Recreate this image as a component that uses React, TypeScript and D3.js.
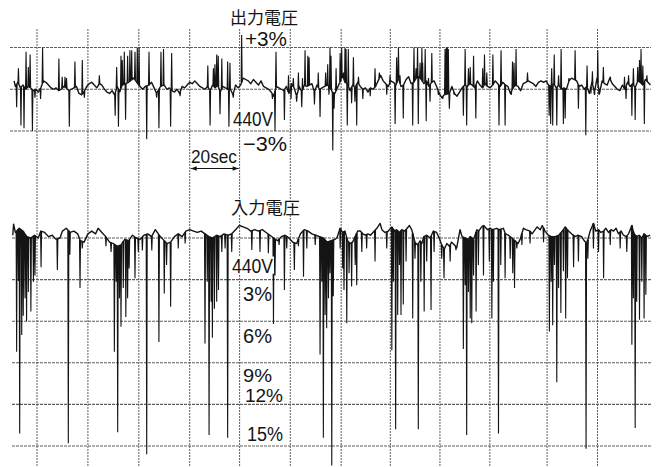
import React from "react";
import * as d3 from "d3";

// Time (s) of the 20-second chart divisions, as read from the paper
const gridTimes = [0, 20, 40, 60, 79.6, 99.5, 119.5, 138.8, 158.3, 177.9, 200.4, 220.2];
// Output voltage reference lines (% of 440V)
const outLevels = [3, 0, -3];
// Input voltage reference lines (% of 440V)
const inLevels = [0, -3, -6, -9, -12, -15];

const outTitle = "出力電圧";
const inTitle = "入力電圧";
const outLabels = ["+3%", "440V", "−3%"];
const inLabels = ["440V", "3%", "6%", "9%", "12%", "15%"];
const spanLabel = "20sec";

// Output voltage: slow wobble of the pen, [seconds, %]
const outTrace: [number, number][] = [
  [-9, 0.6], [-8.5, 0.2], [-7.5, 0.5], [-6.5, 0.1], [-5.5, 0.3], [-4.5, 0.0], [-3.5, 0.2], [-2.5, 0.1],
  [-1.5, -0.1], [-0.5, 0.0], [0.5, -0.2], [1.5, 0.1], [2.5, 0.6], [3.5, 0.5], [4.5, 0.3], [5.5, 0.1],
  [6.5, 0.0], [7.5, 0.1], [8.5, -0.1], [9.5, 0.0], [10.5, 0.2], [11.5, 0.1], [12.5, -0.1], [13.5, 0.0],
  [14.5, 0.1], [15.5, 0.2], [16.5, -0.3], [17.5, -0.4], [18.5, -0.2], [19.5, 0.2], [20.5, 0.4], [21.5, 0.5],
  [22.5, 0.3], [23.5, 0.1], [24.5, 0.4], [25.5, 0.3], [26.5, 0.0], [27.5, -0.2], [28.5, -0.3], [29.5, -0.1],
  [30.5, -0.4], [31.5, 0.2], [32.5, -0.2], [33.5, 0.3], [36, 0.5], [38, 0.8], [40, 0.3], [41.5, 0.0],
  [42.5, 0.2], [44, 0.3], [45, 0.5], [46, 0.1], [47, -0.3], [48.5, 0.2], [50, 0.3], [51, 0.0],
  [52, 0.1], [53, -0.1], [54, -0.2], [55, 0.0], [56, -0.3], [57, 0.2], [58, 0.1], [59, 0.3],
  [60, 0.5], [61, 0.4], [62, 0.6], [63, 0.4], [64, 0.2], [65, 0.1], [66, 0.0], [67, 0.2],
  [68, -0.1], [69, 0.3], [70, 0.1], [71, 0.3], [72, -0.2], [73, 0.2], [74, 0.1], [75, 0.0],
  [76, 0.0], [77, -0.4], [78, 0.3], [79, 0.1], [80, 0.3], [81, 0.8], [82, 0.7], [83, 0.6],
  [84, 0.4], [85, 0.7], [86, 0.5], [87, 0.3], [88, 0.6], [89, 0.2], [90, 0.1], [91, 0.0],
  [92, -0.2], [93, -0.5], [94, 0.2], [95, 0.1], [96, 0.0], [97, -0.1], [98, 0.2], [99, -0.3],
  [100, 0.4], [101, 0.1], [102, -0.5], [103, 0.2], [104, -0.2], [105, 0.3], [106, 0.2], [107, 0.3],
  [108, 0.4], [109, -0.2], [110, 0.3], [111, 0.0], [112, 0.1], [113, 0.2], [114, 0.3], [115, 0.2],
  [116, -0.2], [117, -0.3], [118, 0.1], [119, 0.5], [120, 1.0], [121, 0.5], [122, 0.4], [123, -0.1],
  [124, 0.3], [125, 0.1], [126, 0.5], [127, 0.2], [128, 0.0], [129, 0.1], [130, -0.2], [131, 0.1],
  [132, 0.0], [133, 0.2], [134, 0.6], [135, 1.0], [136, 0.6], [137, 0.4], [138, 0.2], [139, 0.6],
  [140, 0.5], [141, 0.3], [142, 0.8], [143, 0.2], [144, 0.3], [145, 0.7], [146, 0.9], [147, 0.4],
  [148, 0.5], [149, 0.8], [150, 0.9], [151, 0.7], [152, 0.4], [153, 0.6], [154, 0.2], [155, 0.5],
  [156, 0.6], [157, 0.2], [158, -0.3], [159, -0.6], [160, -0.4], [162, -0.3], [163, 0.2], [164, -0.3],
  [165, -0.5], [166, -0.2], [167, 0.1], [168, 0.3], [169, 0.2], [170, 0.4], [171, 0.3], [172, 0.1],
  [173, 0.6], [174, 0.3], [175, 0.1], [176, 0.4], [177, 0.2], [178, 0.1], [179, 0.3], [180, 0.6],
  [181, 0.4], [182, 0.2], [183, 0.5], [184, 0.3], [185, 0.2], [186, -0.3], [187, 0.1], [188, 0.3],
  [189, 0.2], [190, -0.1], [191, 0.4], [192, 0.5], [193, 0.6], [194, 0.5], [195, 0.4], [196, 0.2],
  [197, 0.5], [198, 0.6], [199, 0.5], [200, 0.6], [201, 0.3], [202, 0.2], [203, 0.4], [204, 0.1],
  [205, 0.3], [206, 0.0], [207, 0.1], [208, 0.0], [209, 0.6], [210, 0.8], [211, 0.7], [212, 0.6],
  [213, 0.2], [214, 0.3], [215, 0.0], [216, 0.2], [217, -0.3], [218, 0.5], [219, -0.2], [220, 0.8],
  [221, -0.3], [222, 0.6], [223, 0.4], [224, 0.3], [225, 0.8], [226, 0.4], [227, 0.2], [228, 0.0],
  [229, -0.1], [230, 0.3], [231, 0.0], [232, 0.5], [233, 0.2], [234, 0.4], [235, 0.1], [236, 0.6],
  [237, 0.5], [238, 0.3], [239, 0.7], [240, 0.5], [241, 0.3],
];

// Output voltage: fast pen excursions, [seconds, peak %]
const outSpikes: [number, number][] = [
  [-8.0, -1.3], [-7.3, 1.5], [-6.3, -2.6], [-5.1, -2.8], [-4.3, 2.7], [-3.4, 1.6], [-2.7, 2.5], [-1.8, -3.0],
  [-0.8, -0.6], [1.4, -0.7], [2.2, 3.0], [8.6, 2.2], [9.9, 0.9], [11.0, 0.9], [11.6, 0.8], [12.7, -2.7],
  [14.9, 2.0], [17.8, 2.1], [18.6, -0.6], [24.5, 1.0], [30.7, -1.9], [31.3, 1.6], [32.0, -2.7], [33.0, 2.4],
  [33.5, 2.1], [34.3, 2.7], [34.8, -2.2], [35.6, 2.4], [36.5, 2.8], [37.2, 2.8], [37.6, 0.8], [38.5, 2.7],
  [39.4, 3.0], [40.1, 3.0], [43.1, -3.6], [44.0, 2.7], [47.0, -0.6], [47.9, -2.8], [48.7, 2.7], [49.7, 2.9],
  [52.5, -2.7], [52.9, 2.6], [56.2, -0.5], [67.1, 1.7], [68.0, -2.6], [69.3, 1.5], [69.9, 1.8], [70.6, 2.5],
  [71.2, 2.4], [71.9, -1.8], [72.6, 2.2], [74.9, 2.0], [75.4, -2.7], [75.8, 1.9], [77.1, -0.6], [80.4, 3.9],
  [92.5, -0.7], [93.5, -3.0], [93.9, 2.7], [97.2, -2.2], [98.8, 1.0], [99.8, -0.7], [100.7, 0.8], [102.0, -0.9],
  [102.7, 1.2], [104.0, -1.3], [104.3, 0.8], [105.3, 2.8], [106.4, 2.4], [106.9, 2.3], [109.0, -1.1], [110.5, 1.2],
  [111.2, -2.0], [113.4, 1.2], [114.2, 1.8], [114.7, -0.4],
  [115.1, 3.0], [115.5, 2.4], [116.2, -4.4], [116.7, -1.4], [117.5, 1.5], [119.1, 2.6], [119.7, 3.0], [120.4, 1.2],
  [121.0, 3.0], [121.4, 2.9], [121.9, -2.6], [122.3, 2.9], [123.6, -1.0], [124.3, 2.3], [124.9, -0.9], [125.6, -2.6],
  [126.3, 0.9], [128.0, -0.7], [130.9, -0.5], [132.8, 1.5], [134.5, 1.2], [137.4, -0.4], [138.7, 1.0], [140.7, -2.5],
  [141.3, 2.3], [142.0, 3.0], [142.6, 1.0], [143.9, -2.1], [147.6, -2.6], [148.1, 3.0], [148.9, 1.5], [149.5, 3.0],
  [149.8, -2.5], [150.5, 1.9], [151.2, 3.0], [151.5, 1.9], [152.5, 2.9], [152.9, -2.3], [153.8, 0.8], [154.4, -0.9],
  [155.1, 2.6], [157.7, -0.4], [159.4, -0.7], [160.3, 2.9], [160.8, 3.0], [161.2, 3.0], [161.6, 2.9], [162.0, -1.4],
  [163.9, -0.4], [167.5, -1.9], [168.2, 2.9], [168.8, -2.6], [169.5, 1.5], [170.2, 1.6], [171.5, 2.4], [172.4, -2.1],
  [175.1, 1.5], [175.8, 2.5], [176.7, 1.2], [179.1, 2.5],
  [181.5, -2.6], [182.3, 2.8], [183.9, -2.6], [186.3, -0.4], [186.8, 2.0], [187.4, 1.9], [188.2, 2.9], [192.7, 1.2],
  [201.2, -1.9], [201.8, -2.5], [202.2, 1.5], [202.6, -2.6], [203.2, 2.5], [204.2, -2.6], [204.9, 1.0], [205.9, 2.9],
  [206.8, -2.5], [207.5, -2.1], [209.0, 0.8], [211.4, 2.8], [212.7, -1.4], [215.6, -3.3], [216.1, 1.7], [217.6, -0.3],
  [218.2, 1.3], [219.0, -0.4], [220.3, 2.8], [220.8, -0.4], [222.5, 1.6], [225.2, 0.9], [230.8, 0.9], [231.4, -0.7],
  [232.4, 1.0], [233.7, -1.9], [234.3, 1.5], [235.0, -2.2], [236.0, 1.6], [236.7, 2.1], [237.3, 2.9], [238.0, 1.7],
  [238.6, -2.5], [239.6, 1.0],
];

// Input voltage: slow wobble, [seconds, %]
const inTrace: [number, number][] = [
  [-9.5, 0.2], [-9.2, 1.0], [-8.5, 0.4], [-7, 0.7], [-5.5, 0.5], [-4, 0.1], [-2.5, 0.0], [-1, 0.2],
  [0.5, 0.0], [1.5, 0.5], [3, 0.4], [4.5, 0.1], [6, 0.2], [7.5, -0.1], [9, 0.0], [10, 0.5],
  [11.5, 0.7], [13, 0.4], [14.5, 0.5], [16, 0.3], [17, -0.2], [18.5, -0.3], [20, 0.3], [21.5, 0.5],
  [23, 0.3], [24, 0.7], [25.5, 0.4], [27, 0.1], [28.5, -0.3], [30, -0.4], [31.5, -0.6], [33, -0.5],
  [34.5, -0.1], [36, -0.2], [37.5, 0.2], [39, 0.0], [40.5, -0.1], [42, 0.2], [43.5, 0.3], [45, 0.1],
  [46.5, 0.6], [48, 0.2], [49.5, -0.1], [51, -0.4], [52.5, -0.3], [54, 0.1], [55.5, 0.3], [57, 0.1],
  [58.5, 0.5], [60, 0.6], [61.5, 0.5], [63, 0.4], [64.5, 0.5], [66, 0.3], [67.5, 0.1], [69, 0.0],
  [70.5, 0.2], [72, 0.1], [73.5, 0.3], [75, 0.2], [76.5, 0.3], [78, 0.6], [79.5, 0.9], [81, 0.8],
  [82.5, 0.7], [84, 0.5], [85.5, 0.6], [87, 0.5], [88.5, 0.6], [90, 0.4], [91.5, 0.2], [93, 0.0],
  [94.5, -0.2], [96, 0.1], [97.5, 0.2], [99, 0.0], [100.5, -0.3], [102, -0.4], [103.5, 0.3], [105, 0.6],
  [106.5, 0.5], [108, 0.3], [109.5, 0.2], [111, 0.1], [112.5, 0.0], [114, -0.3], [115.5, -0.2], [117, -0.1],
  [117.8, 0.0], [119.1, 0.7], [120, 0.4], [121, 0.5], [122, -0.2], [123, -0.4], [124, -0.3], [125, 0.1],
  [126, 0.5], [127, 0.5], [128, 0.3], [129, 0.2], [130, 0.3], [131, 0.2], [132, 0.4], [133.5, 0.7],
  [134.8, 1.05], [135.5, 0.6], [136.7, 0.4], [138, 0.5], [139.4, 0.8], [140.5, 0.5], [141.3, 0.6], [142.3, 0.4],
  [143.3, 0.6], [144.5, 0.5], [146.3, 0.9], [147.2, 0.6], [148.5, -0.3], [149.5, -0.5], [150.5, -0.2], [151.2, -0.4],
  [152, 0.1], [153.1, 0.2], [154.5, 0.0], [155.7, 0.5], [157, 0.4], [158, 0.0], [159, -0.5], [160, -0.8],
  [161, -0.4], [162, -0.6], [162.9, -0.3], [164, -0.5], [164.9, -0.7], [166.2, 0.6], [167, 0.1], [168.2, 0.0],
  [169.5, -0.1], [170.2, 0.1], [171.5, -0.1], [172.8, 0.6], [173.5, 0.5], [174.7, 0.8], [175.5, 0.9], [176.0, 0.8],
  [177, 0.6], [178.0, 0.7], [179, 0.6], [180.6, 0.7], [181.5, 0.6], [183.2, 0.7], [184, 0.3], [185.2, 0.2],
  [186.5, 0.0], [187.8, -0.2], [189, -0.4], [189.8, -0.1], [191.1, 0.7], [192, 0.6], [193.7, 0.5], [194.5, 0.3],
  [195.7, 0.6], [196.5, 0.8], [197.7, 0.6], [198.5, 0.9], [199.6, 0.5], [200.9, 0.2], [202, 0.1], [203.6, 0.1],
  [205, 0.2], [206.8, 0.6], [207.5, 0.8], [208.8, 0.5], [210, 0.3], [211.4, 0.1], [212.5, 0.2], [214.0, 0.1],
  [215, -0.2], [216.0, -0.4], [217.3, 0.5], [218.6, 1.05], [219.5, 0.5], [220.6, 0.6], [221.5, 0.4], [222.6, 0.5],
  [223.5, 0.7], [224.5, 0.4], [225.5, 0.6], [226.5, 0.5], [227.5, 0.7], [228.4, 0.3], [229.5, 0.5], [230.4, 0.2],
  [231.5, 0.1], [232.4, 0.3], [233.7, 0.9], [234.5, 0.3], [235.7, 0.1], [236.5, 0.2], [237.6, 0.0], [238.5, 0.3],
  [239.6, 0.1], [240.9, 0.2],
];

// Input voltage: dips, [seconds, %]
const inDips: [number, number][] = [
  [-8.0, -8.2], [-7.3, -3.1], [-6.8, -14.1], [-6.0, -7.0], [-5.4, -5.6], [-4.7, -4.35], [-4.1, -6.0], [-3.4, -3.9],
  [-2.4, -5.3], [-1.4, -3.15], [-0.8, -2.7], [1.6, -2.1], [8.0, -2.3], [12.3, -14.8], [12.9, -1.2], [16.9, -3.6],
  [17.8, -0.75], [27.1, -0.6], [29.1, -1.0], [30.4, -8.2], [31.1, -3.15], [31.7, -14.0], [32.4, -4.35], [33.0, -6.4],
  [33.9, -3.6], [34.9, -5.7], [35.6, -4.35], [36.2, -2.2], [38.5, -2.9], [39.8, -1.0], [41.4, -0.9], [43.1, -15.6],
  [45.1, -0.9], [47.9, -7.5], [50.0, -4.0], [50.9, -1.95], [52.5, -4.95], [55.5, -0.75], [58.2, -0.4], [66.0, -7.6],
  [66.9, -3.15], [67.6, -14.2], [68.4, -4.6], [68.9, -7.2], [69.7, -5.1], [70.6, -4.6], [71.3, -3.75], [72.6, -1.0],
  [73.9, -0.75], [74.9, -14.4], [76.5, -1.0], [84.4, -0.87], [87.6, -1.0], [90.9, -1.1], [92.9, -6.2], [93.5, -2.7],
  [95.1, -0.5], [97.2, -3.75], [98.1, -0.75], [101.1, -2.3], [102.7, -0.6], [104.7, -2.8], [106.0, -0.75], [109.3, -0.5],
  [111.2, -8.4], [111.9, -3.15], [112.5, -14.4], [113.2, -5.55], [113.8, -6.5], [114.5, -4.35], [115.1, -2.55], [115.8, -16.4],
  [116.4, -4.2], [119.1, -0.75], [120.1, -2.2], [120.6, -3.75], [121.7, -6.15], [122.6, -2.55], [123.6, -3.5], [125.0, -1.95],
  [125.6, -3.4], [127.6, -1.0], [129.5, -0.75], [132.8, -1.7], [137.4, -0.75], [139.4, -8.1], [140.0, -3.15], [140.9, -13.8],
  [141.7, -5.55], [142.4, -1.95], [143.0, -5.55], [143.9, -4.8], [145.0, -1.7], [147.6, -5.8], [148.5, -1.5], [149.8, -13.8],
  [150.8, -3.15], [152.1, -5.3], [153.1, -1.7], [154.8, -5.2], [156.0, -1.0], [159.0, -1.5], [159.9, -2.9], [162.3, -1.7],
  [164.6, -0.87], [167.5, -8.0], [168.2, -3.4], [168.8, -14.2], [169.5, -3.9], [170.2, -5.8], [170.8, -6.15], [171.5, -2.7],
  [172.5, -5.3], [173.4, -1.95], [175.4, -2.7], [177.7, -1.7], [178.7, -5.8], [179.3, -3.15], [181.3, -14.1], [182.2, -1.95],
  [183.9, -2.9], [185.9, -1.5], [186.9, -2.55], [187.6, -3.6], [188.5, -0.75], [190.5, -0.5], [193.7, -0.4], [199.0, -0.3],
  [201.3, -6.75], [202.0, -3.15], [202.6, -6.3], [203.3, -1.95], [204.2, -10.4], [204.9, -3.6], [205.8, -5.4], [206.8, -2.4],
  [207.7, -5.8], [208.4, -2.9], [210.8, -2.1], [212.7, -1.7], [215.7, -15.2], [216.4, -1.5], [218.6, -0.75], [220.6, -1.0],
  [222.6, -2.9], [225.2, -0.5], [229.1, -0.75], [231.7, -1.0], [233.7, -7.7], [234.3, -4.35], [235.0, -13.7], [235.6, -4.6],
  [236.7, -5.9], [237.6, -3.15], [238.5, -5.8], [239.2, -4.1],
];

const CJK_FONT = "'Noto Sans CJK JP', sans-serif";
const LATIN_FONT = "'Liberation Sans', Arial, sans-serif";
const INK = "#141414";
const GRID = "#5e5e5e";

type Pt = [number, number];
const bisectTime = d3.bisector((d: Pt) => d[0]).left;

// level of the slow trace at time t (where a fast excursion leaves the trace)
function traceLevel(trace: Pt[], t: number): number {
  const i = bisectTime(trace, t);
  if (i <= 0) return trace[0][1];
  if (i >= trace.length) return trace[trace.length - 1][1];
  const a = trace[i - 1];
  const b = trace[i];
  return d3.interpolateNumber(a[1], b[1])((t - a[0]) / (b[0] - a[0]));
}

export default function App() {
  const W = 659;
  const H = 467;
  const left = 10;
  const right = 651;

  const x = d3.scaleLinear().domain([0, 220]).range([37, 597]);
  const yOut = d3.scaleLinear().domain([-3, 3]).range([131, 47.5]);
  const yIn = d3.scaleLinear().domain([-15, 0]).range([446, 238]);

  const lineOut = d3.line<Pt>().x((d) => x(d[0])).y((d) => yOut(d[1]));
  const lineIn = d3.line<Pt>().x((d) => x(d[0])).y((d) => yIn(d[1]));

  const excursions = (trace: Pt[], data: Pt[], gen: d3.Line<Pt>) =>
    data
      .map(([t, v]) => {
        const base = traceLevel(trace, t);
        return gen([[t - 0.2, base], [t, v], [t + 0.2, base]]) as string;
      })
      .join("");

  const x0 = x(gridTimes[3]);
  const x1 = x(gridTimes[4]);
  const ay = 168.5;

  const label = (
    text: string,
    lx: number,
    base: number,
    len: number,
    size: number,
    font: string,
    bg: boolean,
    key: string
  ) => (
    <g key={key}>
      {bg && (
        <rect x={lx - 1} y={base - size * 0.8} width={len + 2} height={size * 0.86} fill="#fff" />
      )}
      <text
        x={lx}
        y={base}
        fontSize={size}
        fontFamily={font}
        fill={INK}
        textLength={len}
        lengthAdjust="spacingAndGlyphs"
      >
        {text}
      </text>
    </g>
  );

  const outPos = [
    { lx: 245, base: 46, len: 42, size: 19.5 },
    { lx: 233, base: 125.5, len: 40, size: 20.5 },
    { lx: 243, base: 150.5, len: 44, size: 20.5 },
  ];
  const inPos = [
    { lx: 232, base: 272.5, len: 41, size: 20 },
    { lx: 243, base: 300.5, len: 29, size: 20 },
    { lx: 243, base: 342.5, len: 29, size: 20 },
    { lx: 243, base: 381.5, len: 29, size: 18.5 },
    { lx: 245, base: 402, len: 38, size: 18.5 },
    { lx: 247, base: 440.5, len: 36, size: 20 },
  ];

  return (
    <svg
      width={W}
      height={H}
      viewBox={`0 0 ${W} ${H}`}
      style={{ position: "absolute", left: 0, top: 0, background: "#fff" }}
    >
      <rect x={0} y={0} width={W} height={H} fill="#fff" />
      {/* vertical time grid */}
      {gridTimes.map((t, i) => (
        <line
          key={`v${i}`}
          x1={x(t)}
          x2={x(t)}
          y1={29}
          y2={H}
          stroke={GRID}
          strokeWidth={1}
          strokeDasharray="2 1"
        />
      ))}
      {/* output reference lines */}
      {outLevels.map((v, i) => (
        <line
          key={`ho${i}`}
          x1={left}
          x2={right}
          y1={yOut(v)}
          y2={yOut(v)}
          stroke={GRID}
          strokeWidth={1.1}
          strokeDasharray="3 1"
        />
      ))}
      {/* input reference lines */}
      {inLevels.map((v, i) => (
        <line
          key={`hi${i}`}
          x1={left + 2}
          x2={right}
          y1={yIn(v)}
          y2={yIn(v)}
          stroke={GRID}
          strokeWidth={1.1}
          strokeDasharray="3 1"
        />
      ))}

      {/* output voltage record */}
      <path d={lineOut(outTrace) as string} fill="none" stroke={INK} strokeWidth={1.4} strokeLinejoin="round" />
      <path d={excursions(outTrace, outSpikes, lineOut)} fill="none" stroke={INK} strokeWidth={1.1} />

      {/* input voltage record */}
      <path d={lineIn(inTrace) as string} fill="none" stroke={INK} strokeWidth={1.4} strokeLinejoin="round" />
      <path d={excursions(inTrace, inDips, lineIn)} fill="none" stroke={INK} strokeWidth={1.1} />

      {/* titles */}
      {label(outTitle, 230, 23.5, 68, 17, CJK_FONT, true, "t1")}
      {label(inTitle, 231, 214, 69, 17, CJK_FONT, true, "t2")}
      {outLabels.map((s, i) =>
        label(s, outPos[i].lx, outPos[i].base, outPos[i].len, outPos[i].size, LATIN_FONT, i === 1, `ol${i}`)
      )}
      {inLabels.map((s, i) =>
        label(s, inPos[i].lx, inPos[i].base, inPos[i].len, inPos[i].size, LATIN_FONT, i === 0, `il${i}`)
      )}

      {/* 20 sec span */}
      {label(spanLabel, 191, 163, 46, 18, LATIN_FONT, false, "span")}
      <line x1={x0 + 1} x2={x1 - 1} y1={ay} y2={ay} stroke={INK} strokeWidth={1} />
      <path d={`M${x0 + 1},${ay}l6,-2.2v4.4z`} fill={INK} />
      <path d={`M${x1 - 1},${ay}l-6,-2.2v4.4z`} fill={INK} />
    </svg>
  );
}
